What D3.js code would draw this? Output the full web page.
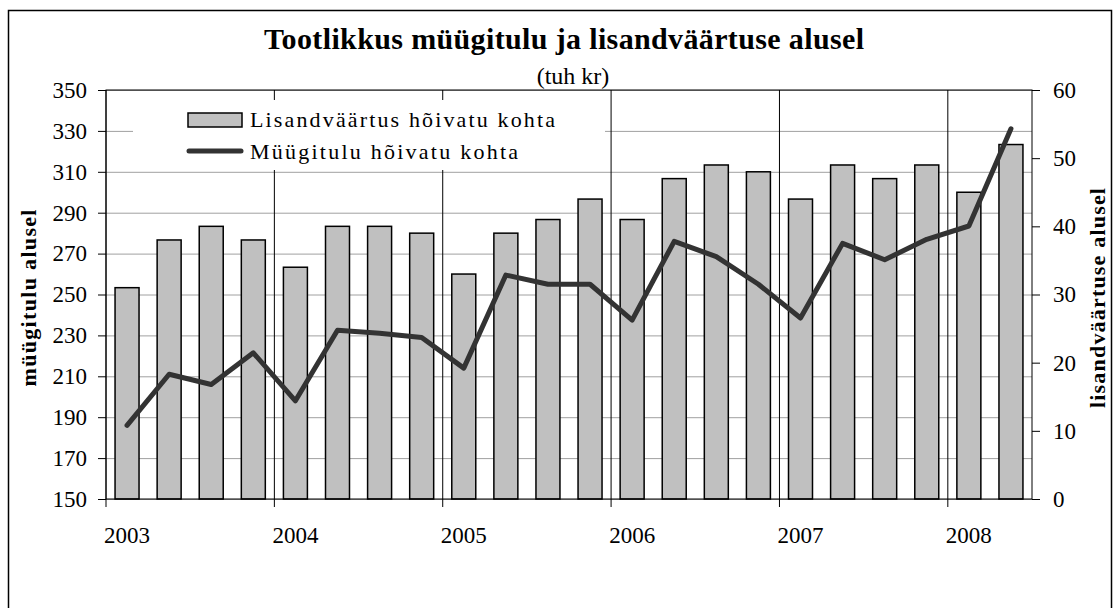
<!DOCTYPE html>
<html>
<head>
<meta charset="utf-8">
<script src="https://cdn.jsdelivr.net/npm/d3@7/dist/d3.min.js"></script>
<style>
  body { margin: 0; background: #fff; }
  svg text { font-family: "Liberation Serif", "Times New Roman", serif; fill: #000; }
</style>
</head>
<body>
<div id="chart"></div>
<script>
// quarters on the x axis
var quarters = ["2003 I", "2003 II", "2003 III", "2003 IV",
  "2004 I", "2004 II", "2004 III", "2004 IV",
  "2005 I", "2005 II", "2005 III", "2005 IV",
  "2006 I", "2006 II", "2006 III", "2006 IV",
  "2007 I", "2007 II", "2007 III", "2007 IV",
  "2008 I", "2008 II"];
var yearLabels = ["2003", "2004", "2005", "2006", "2007", "2008"];

// bars, right axis (lisandvaartus)
var addedValue = [31, 38, 40, 38, 34, 40, 40, 39, 33, 39, 41, 44,
  41, 47, 49, 48, 44, 49, 47, 49, 45, 52];
// line, left axis (myygitulu)
var salesRevenue = [186, 211, 206, 221.5, 198, 232.5, 231, 229, 214, 259.5, 255, 255,
  237.5, 276, 268.5, 255, 238.5, 275, 267, 277, 283.5, 331];

var leftTicks = [150, 170, 190, 210, 230, 250, 270, 290, 310, 330, 350];
var rightTicks = [0, 10, 20, 30, 40, 50, 60];

var svgWidth = 1113;
var svgHeight = 608;

var margin = { top: 90, right: 81, bottom: 109, left: 106 };
var width = svgWidth - margin.left - margin.right;
var height = svgHeight - margin.top - margin.bottom;

var svg = d3.select("#chart")
  .append("svg")
  .attr("width", svgWidth)
  .attr("height", svgHeight);

// outer frame
svg.append("rect")
  .attr("x", 8.5)
  .attr("y", 10.5)
  .attr("width", 1103)
  .attr("height", 620)
  .attr("fill", "none")
  .attr("stroke", "#000")
  .attr("stroke-width", 1.5);

var chartGroup = svg.append("g")
  .attr("transform", `translate(${margin.left}, ${margin.top})`);

// scales
var xScale = d3.scaleBand()
  .domain(quarters)
  .range([0, width])
  .paddingInner(0.43)
  .paddingOuter(0.215);
var step = xScale.step();
var center = d => xScale(d) + xScale.bandwidth() / 2;

var yLeft = d3.scaleLinear().domain([150, 350]).range([height, 0]);
var yRight = d3.scaleLinear().domain([0, 60]).range([height, 0]);

// horizontal grid
chartGroup.append("g")
  .attr("class", "grid")
  .call(d3.axisLeft(yLeft).tickValues(leftTicks).tickSize(-width).tickFormat(""))
  .call(g => g.select(".domain").remove())
  .call(g => g.selectAll("line").attr("stroke", "#a0a0a0"));

// x axis: ticks on year boundaries, labels under first quarter
var firstQuarters = quarters.filter(q => / I$/.test(q));
var xAxis = chartGroup.append("g")
  .attr("transform", `translate(0, ${height})`)
  .call(d3.axisBottom(xScale)
    .tickValues(firstQuarters)
    .tickFormat((d, i) => yearLabels[i])
    .tickSizeInner(8)
    .tickSizeOuter(0)
    .tickPadding(20));
xAxis.select(".domain").remove();
xAxis.selectAll(".tick line")
  .attr("x1", -step / 2)
  .attr("x2", -step / 2)
  .attr("y1", -height)
  .attr("y2", 8)
  .attr("stroke", "#000");
xAxis.selectAll(".tick text")
  .attr("font-size", 23);

// legend background (hides grid under it)
svg.append("rect")
  .attr("x", 133)
  .attr("y", 100)
  .attr("width", 472)
  .attr("height", 70)
  .attr("fill", "#fff");

// bars
chartGroup.selectAll(".bar")
  .data(addedValue)
  .enter()
  .append("rect")
  .attr("class", "bar")
  .attr("x", (d, i) => xScale(quarters[i]))
  .attr("y", d => yRight(d))
  .attr("width", xScale.bandwidth())
  .attr("height", d => height - yRight(d))
  .attr("fill", "#c0c0c0")
  .attr("stroke", "#000")
  .attr("stroke-width", 1.5);

// plot frame
chartGroup.append("rect")
  .attr("width", width)
  .attr("height", height)
  .attr("fill", "none")
  .attr("stroke", "#000")
  .attr("stroke-width", 1);

// line
var line = d3.line()
  .x((d, i) => center(quarters[i]))
  .y(d => yLeft(d));

chartGroup.append("path")
  .datum(salesRevenue)
  .attr("d", line)
  .attr("fill", "none")
  .attr("stroke", "#333333")
  .attr("stroke-width", 5)
  .attr("stroke-linejoin", "round")
  .attr("stroke-linecap", "round");

// left axis
var leftAxis = chartGroup.append("g")
  .call(d3.axisLeft(yLeft).tickValues(leftTicks).tickSize(8).tickPadding(11));
leftAxis.select(".domain").remove();
leftAxis.selectAll("text").attr("font-size", 23);

// right axis
var rightAxis = chartGroup.append("g")
  .attr("transform", `translate(${width}, 0)`)
  .call(d3.axisRight(yRight).tickValues(rightTicks).tickSize(8).tickPadding(13));
rightAxis.select(".domain").remove();
rightAxis.selectAll("text").attr("font-size", 23);

// titles
svg.append("text")
  .attr("x", 564)
  .attr("y", 49)
  .attr("text-anchor", "middle")
  .attr("font-size", 30)
  .attr("font-weight", "bold")
  .attr("textLength", 600)
  .attr("lengthAdjust", "spacing")
  .text("Tootlikkus müügitulu ja lisandväärtuse alusel");

svg.append("text")
  .attr("x", 573)
  .attr("y", 84)
  .attr("text-anchor", "middle")
  .attr("font-size", 24)
  .text("(tuh kr)");

svg.append("text")
  .attr("transform", "translate(36, 298) rotate(-90)")
  .attr("text-anchor", "middle")
  .attr("font-size", 22)
  .attr("font-weight", "bold")
  .attr("textLength", 177)
  .attr("lengthAdjust", "spacing")
  .text("müügitulu alusel");

svg.append("text")
  .attr("transform", "translate(1105, 298) rotate(-90)")
  .attr("text-anchor", "middle")
  .attr("font-size", 22)
  .attr("font-weight", "bold")
  .attr("textLength", 220)
  .attr("lengthAdjust", "spacing")
  .text("lisandväärtuse alusel");

// legend
var legend = svg.append("g");
legend.append("rect")
  .attr("x", 188)
  .attr("y", 113)
  .attr("width", 54)
  .attr("height", 14)
  .attr("fill", "#c0c0c0")
  .attr("stroke", "#000")
  .attr("stroke-width", 1.5);
legend.append("text")
  .attr("x", 250)
  .attr("y", 127)
  .attr("font-size", 22)
  .attr("textLength", 305)
  .attr("lengthAdjust", "spacing")
  .text("Lisandväärtus hõivatu kohta");
legend.append("line")
  .attr("x1", 189)
  .attr("x2", 241)
  .attr("y1", 151)
  .attr("y2", 151)
  .attr("stroke", "#333333")
  .attr("stroke-width", 5)
  .attr("stroke-linecap", "round");
legend.append("text")
  .attr("x", 250)
  .attr("y", 159)
  .attr("font-size", 22)
  .attr("textLength", 268)
  .attr("lengthAdjust", "spacing")
  .text("Müügitulu hõivatu kohta");
</script>
</body>
</html>
